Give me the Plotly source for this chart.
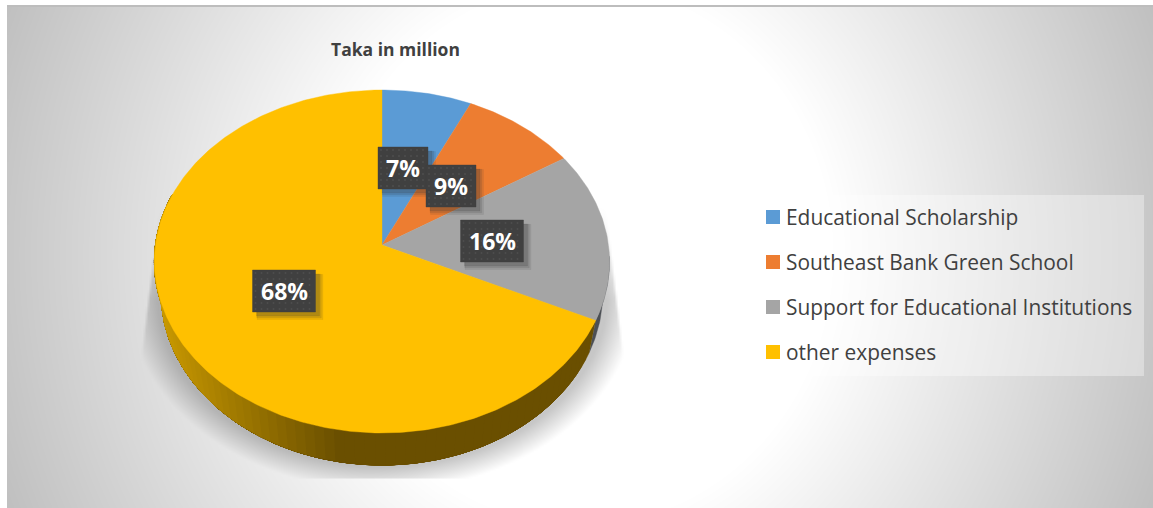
import numpy as np
import plotly.graph_objects as go

# Chart data
categories = ["Educational Scholarship", "Southeast Bank Green School",
              "Support for Educational Institutions", "other expenses"]
shares = [7, 9, 16, 68]
slice_colors = ["#5B9BD5", "#ED7D31", "#A5A5A5", "#FFC000"]
chart_title = "Taka in million"

W, H = 1153, 508

# Tilted-disc geometry, in page pixels
CX, CY = 382.0, 245.0
RX, RY = 226.5, 169.9
TILT = -0.0962
DEPTH = 32.0
BASE_SCALE = 0.97


def disc_point(frac):
    """Project a fraction of the full turn onto the tilted disc's rim."""
    theta = 2 * np.pi * np.asarray(frac, dtype=float)
    u, v = np.sin(theta), -np.cos(theta)
    den = 1 + TILT * v
    return CX + RX * u / den, CY + RY * v / den


def rim(start, end, step=0.002):
    n = max(2, int(abs(end - start) / step) + 1)
    return disc_point(np.linspace(start, end, n))


def base_rim(start, end):
    """Lower edge of the disc: the rim moved down and drawn in slightly."""
    xs, ys = rim(start, end)
    return CX + (xs - CX) * BASE_SCALE, ys + DEPTH


# Backdrop: radial wash, white in the middle, plus the blurred shadow under the disc
gx = np.arange(8, W + 2, 2.0)
gy = np.arange(7, H + 2, 2.0)
XX, YY = np.meshgrid(gx, gy)
t = np.sqrt(((XX - 580.0) / 250.0) ** 2 + ((YY - 254.0) / 268.0) ** 2)
shade = 255 - 43 * np.clip(t - 1, 0, None)

d = np.sqrt(((XX - CX) / 250.0) ** 2 + ((YY - 294.0) / 192.0) ** 2)
outer = np.clip((1.02 - d) / 0.12, 0, 1)
side_limit = 224 + (YY - 205) * 0.12
side_mask = np.clip((side_limit - np.abs(XX - CX)) / 3.0, 0, 1)
vert_fade = np.clip((YY - 205) / 95.0, 0, 1) * (YY <= 477)
shade = shade * (1 - 0.22 * outer * side_mask * vert_fade)

fig = go.Figure()
fig.add_trace(go.Heatmap(
    x=gx, y=gy, z=shade, zmin=0, zmax=255, zsmooth="best",
    colorscale=[[0, "#000000"], [1, "#ffffff"]],
    showscale=False, hoverinfo="skip"))


def fill(xs, ys, color):
    fig.add_trace(go.Scatter(
        x=xs, y=ys, mode="lines", fill="toself", fillcolor=color,
        line=dict(color=color, width=0.4),
        showlegend=False, hoverinfo="skip"))


cum = np.cumsum([0] + shares) / sum(shares)

# Side wall of the grey slice: a thin sliver on the right
xa, ya = rim(0.26, cum[3])
xb, yb = base_rim(0.26, cum[3])
fill(np.r_[xa, xb[::-1]], np.r_[ya, yb[::-1]], "#4B4F54")

# Side wall of the large slice: each step repaints the stretch towards the left,
# so the tone brightens along the rim without any seams
bright = np.array([202, 154, 0])
dark = np.array([106, 79, 0])
wall_end = 0.80
steps = np.linspace(cum[3], 0.735, 64)
for f in steps:
    x0 = float(base_rim(f, f + 0.001)[0][0])
    k = np.clip((x0 - 165) / (345 - 165), 0, 1)
    c = bright + (dark - bright) * k
    col = f"rgb({int(c[0])},{int(c[1])},{int(c[2])})"
    xa, ya = rim(f, wall_end)
    xb, yb = base_rim(f, wall_end)
    fill(np.r_[xa, xb[::-1]], np.r_[ya, yb[::-1]], col)

# Top face slices
for i in range(len(shares)):
    rx_, ry_ = rim(cum[i], cum[i + 1])
    fill(np.r_[CX, rx_, CX], np.r_[CY, ry_, CY], slice_colors[i])

# Value badges with a soft shadow and a faint dot weave
badge_pos = [(403, 168), (451, 186), (492, 241), (284, 291)]
badge_w = [50, 50, 63, 63]
badge_h = 42


def rect(cx, cy, w, h):
    return ([cx - w / 2, cx + w / 2, cx + w / 2, cx - w / 2, cx - w / 2],
            [cy - h / 2, cy - h / 2, cy + h / 2, cy + h / 2, cy - h / 2])


for (bx, by), bw, share in zip(badge_pos, badge_w, shares):
    for off, grow, col in ((6, 3, "rgba(50,50,50,0.10)"), (5, 1.5, "rgba(50,50,50,0.14)"), (4, 0, "rgba(50,50,50,0.20)")):
        xs, ys = rect(bx + off, by + off, bw + grow, badge_h + grow)
        fill(xs, ys, col)
    xs, ys = rect(bx, by, bw, badge_h)
    fill(xs, ys, "#404040")
    dot_x = np.arange(bx - bw / 2 + 3, bx + bw / 2 - 1, 6.0)
    dot_y = np.arange(by - badge_h / 2 + 3, by + badge_h / 2 - 1, 6.0)
    DX, DY = np.meshgrid(dot_x, dot_y)
    fig.add_trace(go.Scatter(x=DX.ravel(), y=DY.ravel(), mode="markers",
                             marker=dict(size=2, color="#4E4E4E", line_width=0),
                             showlegend=False, hoverinfo="skip"))
    fig.add_annotation(x=bx, y=by, text=f"<b>{share}%</b>", showarrow=False,
                       font=dict(family="Open Sans", size=23, color="#ffffff"))

# Legend panel
LX0, LX1, LY0, LY1 = 754, 1144, 195, 376
fig.add_shape(type="rect", x0=LX0, x1=LX1, y0=LY0, y1=LY1,
              fillcolor="rgba(255,255,255,0.35)", line_width=0, layer="above")
legend_y = [217, 262, 307, 352]
for name, col, ly in zip(categories, slice_colors, legend_y):
    fig.add_shape(type="rect", x0=766, x1=780, y0=ly - 7, y1=ly + 7,
                  fillcolor=col, line_width=0, layer="above")
    fig.add_annotation(x=784, y=ly, text=name, showarrow=False, xanchor="left",
                       font=dict(family="Open Sans", size=20.9, color="#404040"))

# Title and the rule along the top edge
fig.add_annotation(x=395, y=49, text=f"<b>{chart_title}</b>", showarrow=False,
                   font=dict(family="Open Sans", size=17.5, color="#404040"))
fig.add_shape(type="line", x0=7, x1=W, y0=6, y1=6, line=dict(color="#BDBDBD", width=2), layer="above")

fig.update_layout(
    width=W, height=H, margin=dict(l=0, r=0, t=0, b=0),
    paper_bgcolor="#ffffff", plot_bgcolor="#ffffff", showlegend=False,
    xaxis=dict(range=[0, W], visible=False, fixedrange=True),
    yaxis=dict(range=[H, 0], visible=False, fixedrange=True),
)
fig.write_html("out.html", config={"displayModeBar": False})
